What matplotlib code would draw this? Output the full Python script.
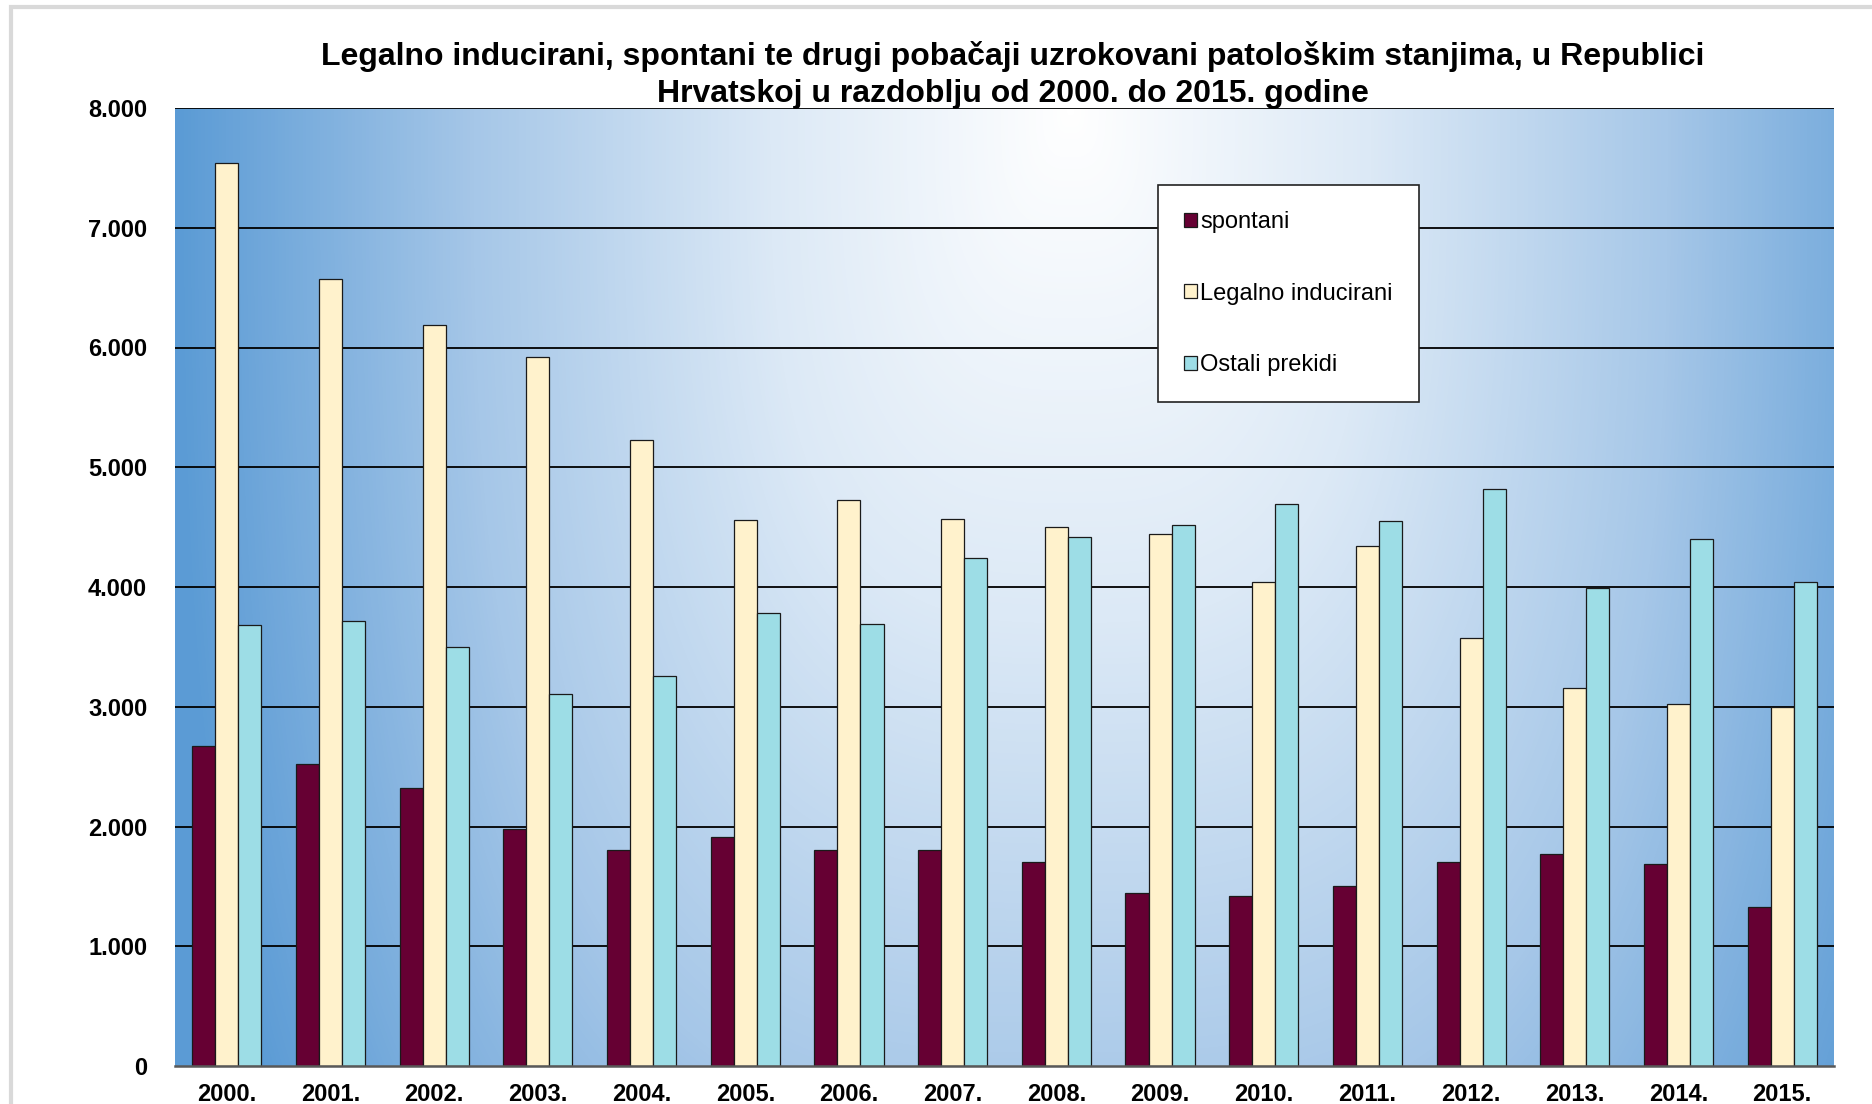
import numpy as np
import matplotlib
matplotlib.use("Agg")
import matplotlib.pyplot as plt
from matplotlib.colors import LinearSegmentedColormap
from matplotlib.patches import Rectangle

plt.rcParams['font.family'] = ['Liberation Sans', 'DejaVu Sans']

# data
years = ['2000.', '2001.', '2002.', '2003.', '2004.', '2005.', '2006.', '2007.',
         '2008.', '2009.', '2010.', '2011.', '2012.', '2013.', '2014.', '2015.']
spontani = [2670, 2520, 2320, 1975, 1805, 1910, 1805, 1805,
            1700, 1443, 1421, 1505, 1700, 1774, 1688, 1326]
legalno = [7540, 6570, 6190, 5920, 5230, 4560, 4730, 4570,
           4500, 4440, 4040, 4340, 3570, 3160, 3020, 3000]
ostali = [3680, 3720, 3500, 3110, 3260, 3780, 3690, 4240,
          4420, 4520, 4690, 4550, 4820, 3990, 4400, 4040]
series_names = ['spontani', 'Legalno inducirani', 'Ostali prekidi']
series_colors = ['#660033', '#FFF2CC', '#9DDDE6']
yticks = [0, 1000, 2000, 3000, 4000, 5000, 6000, 7000, 8000]

W, H = 1872, 1104
fig = plt.figure(figsize=(W / 100, H / 100), dpi=100)
ax = fig.add_axes([175 / W, 1 - 1066 / H, (1834 - 175) / W, (1066 - 108) / H])

# gradient background (white near top centre, blue towards the edges)
gx, gy = np.meshgrid(np.linspace(0, 1, 400), np.linspace(0, 1, 300))
dx = np.abs(gx - 0.54) / 0.54
dy = np.abs(gy - 1.0) / 1.6
t = np.clip((dx ** 3 + dy ** 3) ** (1 / 3), 0, 1)
cmap = LinearSegmentedColormap.from_list('bg', ['#FFFFFF', '#DCE9F6', '#A6C7E8', '#5B9BD5'])
x = np.arange(len(years))
ax.imshow(t, cmap=cmap, vmin=0, vmax=1, origin='lower', aspect='auto',
          extent=(-0.5, len(years) - 0.5, 0, 8000), zorder=0, interpolation='bilinear')

for yv in yticks[1:]:
    ax.axhline(yv, color='black', lw=1.3, zorder=1)

w = 1 / 4.5
for i, (vals, name, col) in enumerate(zip([spontani, legalno, ostali], series_names, series_colors)):
    ax.bar(x + (i - 1) * w, vals, width=w, color=col, edgecolor='#1a1a1a',
           linewidth=0.9, label=name, zorder=2)

ax.set_xlim(-0.5, len(years) - 0.5)
ax.set_ylim(0, 8000)
ax.set_xticks(x)
ax.set_xticklabels(years, fontsize=17, fontweight='bold')
ax.set_yticks(yticks)
ax.set_yticklabels([f"{v:,}".replace(',', '.') for v in yticks], fontsize=17, fontweight='bold')
ax.tick_params(axis='both', length=0)
ax.tick_params(axis='y', pad=20)
ax.tick_params(axis='x', pad=12)
for s in ['left', 'right', 'top']:
    ax.spines[s].set_visible(False)
ax.spines['bottom'].set_color('#595959')
ax.spines['bottom'].set_linewidth(1.8)
ax.spines['bottom'].set_zorder(3)

leg = ax.legend(loc='upper left', bbox_to_anchor=(1158 / W, 1 - 185 / H),
                bbox_transform=fig.transFigure, fontsize=17, frameon=True,
                fancybox=False, framealpha=1, edgecolor='#222222',
                handlelength=0.55, handleheight=0.55, handletextpad=0.15,
                labelspacing=2.1, borderpad=1.1, borderaxespad=0)
leg.get_frame().set_linewidth(1.2)

fig.text(1013 / W, 1 - 57 / H,
         'Legalno inducirani, spontani te drugi pobačaji uzrokovani patološkim stanjima, u Republici',
         ha='center', va='center', fontsize=23, fontweight='bold')
fig.text(1013 / W, 1 - 94 / H,
         'Hrvatskoj u razdoblju od 2000. do 2015. godine',
         ha='center', va='center', fontsize=23, fontweight='bold')

# light grey chart-area border
fig.patches.append(Rectangle((11 / W, -0.1), 1.0, 1 - 7 / H + 0.1, transform=fig.transFigure,
                             fill=False, edgecolor='#D9D9D9', lw=3, clip_on=False))

fig.savefig('out.png', dpi=100)
